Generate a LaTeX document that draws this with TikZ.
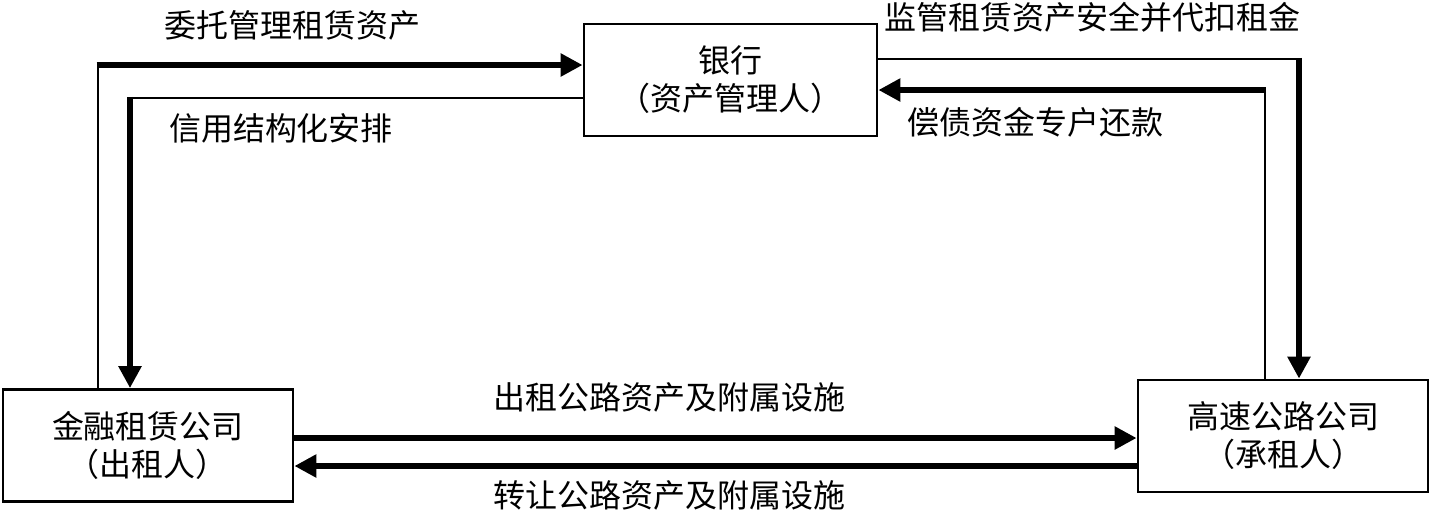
\documentclass[tikz,border=0pt]{standalone}
\usepackage{fontspec}
\setmainfont{Noto Sans CJK SC}
\usetikzlibrary{arrows.meta}
\begin{document}
\begin{tikzpicture}[x=0.5pt,y=-0.5pt,
  box/.style={draw,line width=1.4pt,rectangle,minimum width=145pt,minimum height=56pt,inner sep=0pt,align=center,font=\fontsize{16}{19}\selectfont},
  lbl/.style={inner sep=0pt,font=\fontsize{16}{19}\selectfont},
  thinln/.style={line width=1.2pt},
  thickln/.style={line width=3pt},
  arr/.style={thickln,-{Triangle[length=11pt,width=11pt]}}]
\useasboundingbox (0,0) rectangle (1431,511);
\node[box,minimum width=146.5pt] (B) at (730.5,80) {银行\\（资产管理人）};
\node[box] (L) at (148,445.5) {金融租赁公司\\（出租人）};
\node[box] (H) at (1283,436) {高速公路公司\\（承租人）};
\coordinate (a1) at (98,65);
\coordinate (a2) at (130,98);
\coordinate (a3) at (1299,59);
\coordinate (a4) at (1265,90);
\coordinate (b1) at (0,438);
\coordinate (b2) at (0,466);
% left loop
\draw[thinln] (L.north -| a1) -- (a1);
\draw[arr] ([xshift=-0.75pt]a1) -- (B.west |- a1);
\draw[thinln] (B.west |- a2) -- (a2);
\draw[arr] ([yshift=0.6pt]a2) -- (L.north -| a2);
% right loop
\draw[thinln] (B.east |- a3) -- (a3);
\draw[arr] ([yshift=0.6pt]a3) -- (H.north -| a3);
\draw[thinln] (H.north -| a4) -- (a4);
\draw[arr] ([xshift=0.6pt]a4) -- (B.east |- a4);
% bottom
\draw[arr] (L.east |- b1) -- (H.west |- b1);
\draw[arr] (H.west |- b2) -- (L.east |- b2);
% labels
\node[lbl] (t1) at (292,25) {委托管理租赁资产};
\node[lbl] (t2) at (281,128) {信用结构化安排};
\node[lbl] (t3) at (1092,17) {监管租赁资产安全并代扣租金};
\node[lbl] (t4) at (1035,122) {偿债资金专户还款};
\node[lbl] (t5) at (669,397) {出租公路资产及附属设施};
\node[lbl] (t6) at (669,495) {转让公路资产及附属设施};
\end{tikzpicture}
\end{document}
